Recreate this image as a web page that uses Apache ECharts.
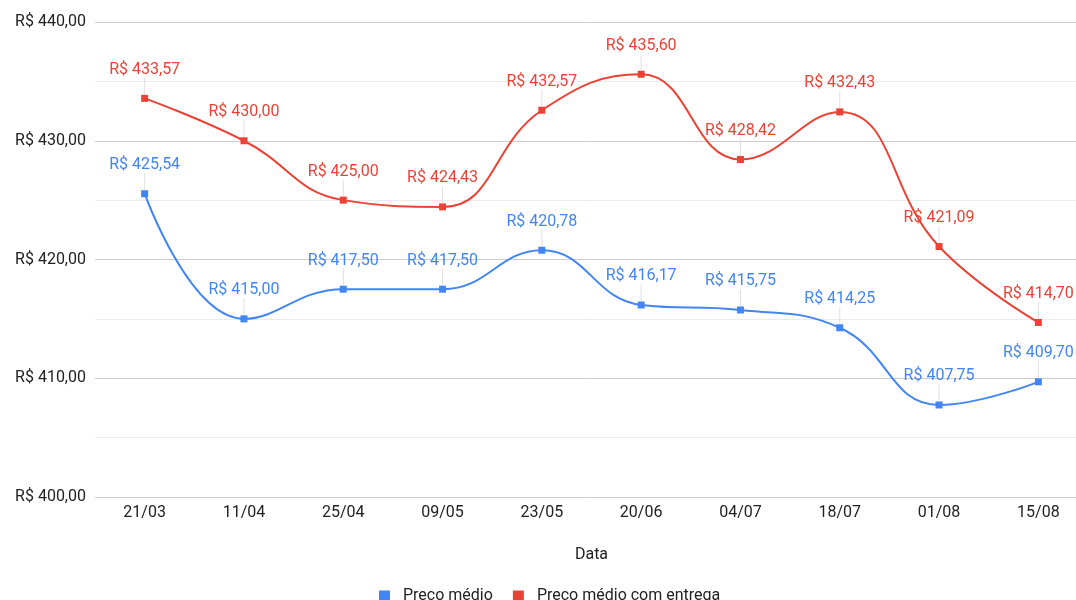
<!DOCTYPE html>
<html><head><meta charset="utf-8">
<script src="https://cdn.jsdelivr.net/npm/echarts@6/dist/echarts.min.js"></script>
<style>html,body{margin:0;padding:0;background:#fff;overflow:hidden;width:1076px;height:600px}#c{width:1088px;height:600px}</style>
</head><body><div id="c"></div>
<script>
const categories = ['21/03','11/04','25/04','09/05','23/05','20/06','04/07','18/07','01/08','15/08'];
const precoMedio = [425.54, 415.00, 417.50, 417.50, 420.78, 416.17, 415.75, 414.25, 407.75, 409.70];
const precoEntrega = [433.57, 430.00, 425.00, 424.43, 432.57, 435.60, 428.42, 432.43, 421.09, 414.70];
const seriesNames = ['Preco médio', 'Preco médio com entrega'];
const colors = ['#4285F4', '#EA4335'];

const fmt = v => 'R$ ' + v.toFixed(2).replace('.', ',');
const chart = echarts.init(document.getElementById('c'), null, {renderer: 'canvas'});
function mkSeries(name, data, color) {
  return {
    name, type: 'line', data, smooth: 0.45,
    symbol: 'rect', symbolSize: 7,
    itemStyle: {color},
    lineStyle: {color, width: 2},
    label: {show: true, position: 'top', distance: 4, color, fontFamily: 'Roboto', fontSize: 16,
      formatter: p => fmt(p.value)},
    labelLayout: {dy: -13},
    labelLine: {show: true, lineStyle: {color: '#e0e0e0', width: 1}},
    emphasis: {disabled: true}
  };
}
chart.setOption({
  animation: false,
  color: colors,
  grid: {left: 95, top: 22, right: 0, height: 475},
  legend: {bottom: -9, left: 374, itemWidth: 11, itemHeight: 11, itemGap: 20, icon: 'rect',
    textStyle: {fontFamily: 'Roboto', fontSize: 16, color: '#222', padding: [0, 0, 0, 8]}},
  xAxis: {type: 'category', data: categories, boundaryGap: true,
    name: 'Data', nameLocation: 'middle', nameGap: 50,
    nameTextStyle: {fontFamily: 'Roboto', fontSize: 16, color: '#222'},
    axisLine: {show: false}, axisTick: {show: false},
    axisLabel: {fontFamily: 'Roboto', fontSize: 16, color: '#222', margin: 8}},
  yAxis: {type: 'value', min: 400, max: 440, interval: 10,
    axisLabel: {fontFamily: 'Roboto', fontSize: 16, color: '#222', margin: 9,
      formatter: v => fmt(v)},
    splitLine: {lineStyle: {color: '#cccccc', width: 1}},
    minorTick: {show: false, splitNumber: 2},
    minorSplitLine: {show: true, lineStyle: {color: '#ebebeb', width: 1}}},
  series: [mkSeries(seriesNames[0], precoMedio, colors[0]), mkSeries(seriesNames[1], precoEntrega, colors[1])]
});
</script></body></html>
